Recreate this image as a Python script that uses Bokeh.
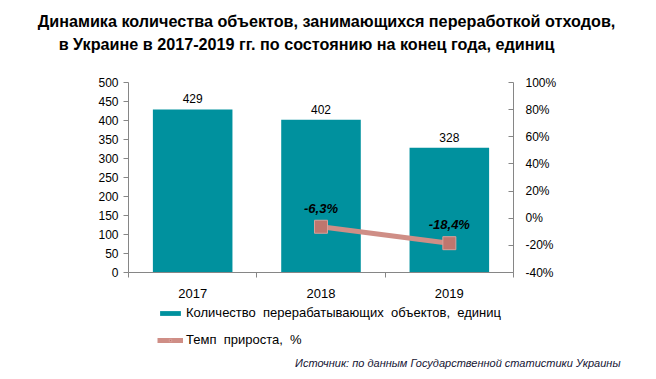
from bokeh.plotting import figure
from bokeh.models import (Range1d, LinearAxis, FixedTicker, PrintfTickFormatter,
                          ColumnDataSource, Label, Legend, LegendItem)
from bokeh.embed import file_html
from bokeh.resources import INLINE

years = ["2017", "2018", "2019"]
counts = [429, 402, 328]
growth_years = ["2018", "2019"]
growth = [-6.3, -18.4]
growth_labels = ["-6,3%", "-18,4%"]
left_ticks = [0, 50, 100, 150, 200, 250, 300, 350, 400, 450, 500]
right_ticks = [-40, -20, 0, 20, 40, 60, 80, 100]
left_limits = (0, 500)
right_limits = (-40, 100)

FONT = "Liberation Sans"
AXIS_COLOR = "#868686"
BAR_COLOR = "#00919E"
LINE_COLOR = "#CF8E86"
MARK_COLOR = "#BF766E"

# canvas geometry (pixels): plotting area inside the canvas
W, H = 656, 379
PL, PR, PT, PB = 128, 513, 82, 272

n = len(years)
xpos = {y: i + 1 for i, y in enumerate(years)}
ux = n / (PR - PL)
x_start = 0.5 - PL * ux
x_end = n + 0.5 + (W - PR) * ux
uy = (left_limits[1] - left_limits[0]) / (PB - PT)
y_start = left_limits[0] - (H - PB) * uy
y_end = left_limits[1] + PT * uy
up = (right_limits[1] - right_limits[0]) / (PB - PT)
p_start = right_limits[0] - (H - PB) * up
p_end = right_limits[1] + PT * up

p = figure(width=W, height=H, output_backend="svg", toolbar_location=None,
           x_range=Range1d(x_start, x_end), y_range=Range1d(y_start, y_end),
           min_border=0)
p.outline_line_color = None
p.grid.visible = False
p.extra_y_ranges = {"pct": Range1d(p_start, p_end)}

bar_src = ColumnDataSource(dict(x=[xpos[y] for y in years], top=counts,
                                lbl=[str(c) for c in counts]))
bars = p.vbar(x="x", top="top", bottom=0, width=0.62, source=bar_src,
              fill_color=BAR_COLOR, line_color=None)
p.text(x="x", y="top", text="lbl", source=bar_src, text_align="center",
       text_baseline="bottom", y_offset=-6, text_font_size="12px",
       text_font={"value": FONT}, text_color="#000000")

line_src = ColumnDataSource(dict(x=[xpos[y] for y in growth_years], y=growth,
                                 lbl=growth_labels))
ln = p.line(x="x", y="y", source=line_src, y_range_name="pct", line_color=LINE_COLOR,
            line_width=5)
mk = p.scatter(x="x", y="y", source=line_src, y_range_name="pct", marker="square",
               size=13, fill_color=MARK_COLOR, line_color="#D9A09A", line_width=1)
p.text(x="x", y="y", text="lbl", source=line_src, y_range_name="pct",
       text_align="center", text_baseline="bottom", y_offset=-11,
       text_font_size="13px", text_font_style="bold italic",
       text_font={"value": FONT}, text_color="#000000")

# axes, pinned to the plotting area
xa = p.xaxis[0]
xa.fixed_location = left_limits[0]
xa.bounds = (0.5, n + 0.5)
xa.ticker = FixedTicker(ticks=[xpos[y] for y in years],
                        minor_ticks=[i + 0.5 for i in range(n + 1)])
xa.major_label_overrides = {xpos[y]: y for y in years}
xa.major_tick_out = 0
xa.major_tick_in = 0
xa.minor_tick_out = 5
xa.minor_tick_in = 0
xa.axis_line_color = AXIS_COLOR
xa.minor_tick_line_color = AXIS_COLOR
xa.major_label_text_font = FONT
xa.major_label_text_font_size = "13px"
xa.major_label_text_color = "#000000"
xa.major_label_standoff = 11

ya = p.yaxis[0]
ya.fixed_location = 0.5
ya.bounds = left_limits
ya.ticker = FixedTicker(ticks=left_ticks)
ya.major_tick_out = 5
ya.major_tick_in = 0
ya.minor_tick_line_color = None
ya.axis_line_color = AXIS_COLOR
ya.major_tick_line_color = AXIS_COLOR
ya.major_label_text_font = FONT
ya.major_label_text_font_size = "12px"
ya.major_label_text_color = "#000000"
ya.major_label_standoff = 5

ra = LinearAxis(y_range_name="pct", ticker=FixedTicker(ticks=right_ticks),
                formatter=PrintfTickFormatter(format="%d%%"),
                fixed_location=n + 0.5, bounds=right_limits)
ra.major_tick_out = 0
ra.major_tick_in = 5
ra.minor_tick_line_color = None
ra.axis_line_color = AXIS_COLOR
ra.major_tick_line_color = AXIS_COLOR
ra.major_label_text_font = FONT
ra.major_label_text_font_size = "12px"
ra.major_label_text_color = "#000000"
ra.major_label_standoff = 12
p.add_layout(ra, "right")

# title
for txt, cx, cy in [
    ("Динамика количества объектов, занимающихся переработкой отходов,", 326, H - 20),
    ("в Украине в 2017-2019 гг. по состоянию на конец года, единиц", 306, H - 43),
]:
    p.add_layout(Label(x=cx, y=cy, x_units="screen", y_units="screen", text=txt,
                       text_font=FONT, text_font_size="16.2px", text_font_style="bold",
                       text_align="center", text_baseline="middle",
                       text_color="#000000"))

# source note
p.add_layout(Label(x=620, y=H - 362, x_units="screen", y_units="screen",
                   text="Источник: по данным Государственной статистики Украины",
                   text_font=FONT, text_font_size="11px", text_font_style="italic",
                   text_align="right", text_baseline="middle", text_color="#141433"))

legend = Legend(items=[
    LegendItem(label="Количество  перерабатывающих  объектов,  единиц", renderers=[bars]),
    LegendItem(label="Темп  прироста,  %", renderers=[ln, mk]),
], location=(157, 32), orientation="vertical", background_fill_alpha=0,
    border_line_color=None, label_text_font=FONT, label_text_font_size="13px",
    label_text_color="#000000", glyph_width=26, glyph_height=6, label_height=6,
    spacing=12, padding=0, label_standoff=3, margin=0)
p.add_layout(legend)

open("out.html", "w").write(file_html(p, INLINE))
